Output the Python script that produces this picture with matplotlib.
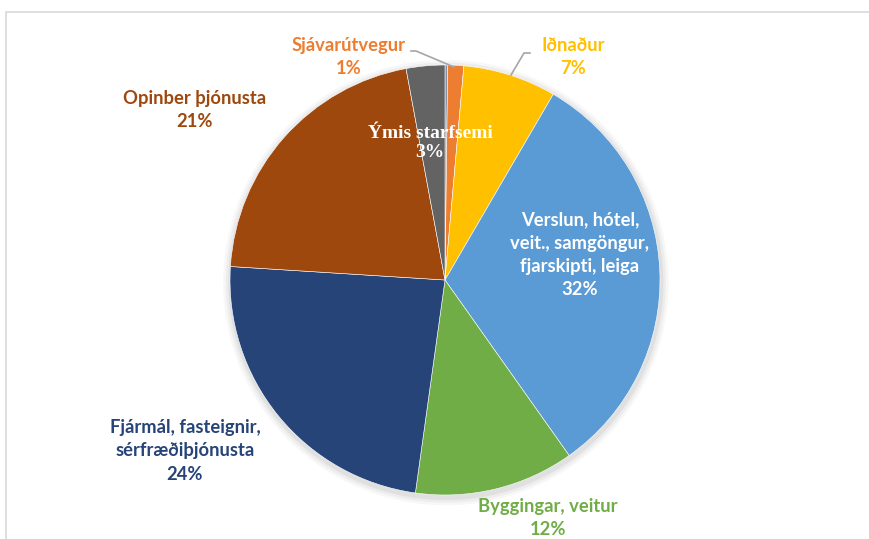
import numpy as np
import matplotlib.pyplot as plt
from matplotlib.patches import Rectangle

# slices clockwise from 12 o'clock
names = ["", "Sjávarútvegur", "Iðnaður", "Verslun, hótel,\nveit., samgöngur,\nfjarskipti, leiga",
         "Byggingar, veitur", "Fjármál, fasteignir,\nsérfræðiþjónusta", "Opinber þjónusta", "Ýmis starfsemi"]
values = [0.2, 1.2, 7.0, 31.8, 12.0, 23.8, 21.1, 2.9]
colors = ["#7F8CA3", "#ED7D31", "#FFC000", "#5B9BD5", "#70AD47", "#264478", "#9E480E", "#636363"]
label_colors = [None, "#ED7D31", "#FFC000", "white", "#70AD47", "#264478", "#9E480E", "white"]

W, H = 870, 539
fig = plt.figure(figsize=(W / 100, H / 100), dpi=100)

# chart frame
fig.patches.append(Rectangle((6 / W, -0.1), 1.2, (H - 12) / H + 0.1, transform=fig.transFigure,
                             fill=False, edgecolor="#D9D9D9", linewidth=1.2))

cx, cy, r = 445, 280, 215
ax = fig.add_axes([(cx - r) / W, (H - cy - r) / H, 2 * r / W, 2 * r / H])

# soft shadow
for k, a in enumerate([0.05, 0.04, 0.03]):
    ax.pie([1], radius=1.0 + 0.012 * (k + 1), center=(0.004, -0.012), colors=["#000000"],
           wedgeprops=dict(alpha=a, linewidth=0))

wedges, _ = ax.pie(values, colors=colors, startangle=90, counterclock=False,
                   wedgeprops=dict(edgecolor="white", linewidth=0.4))
ax.set_xlim(-1, 1)
ax.set_ylim(-1, 1)
ax.set_aspect("equal")
ax.axis("off")

def px(x, y):
    return (x - cx) / r, (cy - y) / r

# label positions in pixels (center of text block)
label_pos = [None, (349, 57), (573, 57), (580, 255), (548, 518), (185, 451), (195, 110), (430, 143)]
total = sum(values)
font = ["Lato", "DejaVu Sans"]
for i, name in enumerate(names):
    if not name:
        continue
    pct = "%d%%" % round(values[i] / total * 100)
    x, y = px(*label_pos[i])
    if i == 7:
        ax.text(x, y, name + "\n" + pct, ha="center", va="center", color="white",
                fontsize=14, fontweight="bold", family="Liberation Serif", linespacing=1.2)
    else:
        ax.text(x, y, name + "\n" + pct, ha="center", va="center", color=label_colors[i],
                fontsize=13.2, fontweight="bold", family=font, linespacing=1.45)

# leader lines
def leader(pts):
    xs, ys = zip(*[px(*p) for p in pts])
    ax.plot(xs, ys, color="#A6A6A6", linewidth=1.2, clip_on=False)

leader([(411, 51), (416, 51), (454, 67)])
leader([(530, 53), (524, 53), (511, 75)])

fig.savefig("out.png", dpi=100)
